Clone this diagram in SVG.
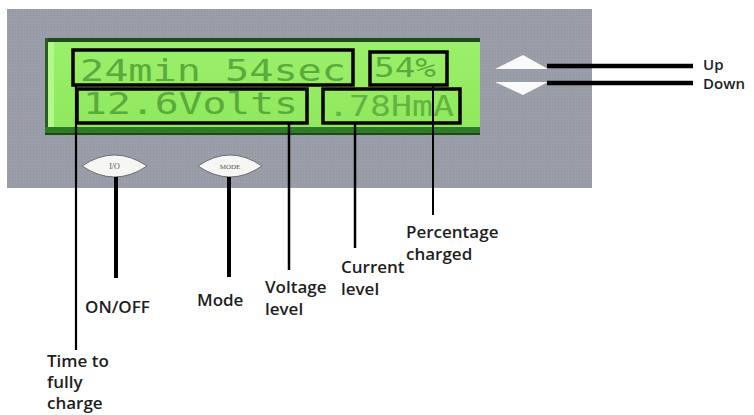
<svg xmlns="http://www.w3.org/2000/svg" width="754" height="415" viewBox="0 0 754 415">
  <defs>
    <pattern id="dots" width="3" height="3" patternUnits="userSpaceOnUse">
      <rect width="3" height="3" fill="#9a9ea8"/>
      <rect width="1" height="1" fill="#8f939d"/>
    </pattern>
    <linearGradient id="lcd" x1="0" y1="0" x2="0" y2="1">
      <stop offset="0" stop-color="#9cf06c"/>
      <stop offset="1" stop-color="#8ee85c"/>
    </linearGradient>
  </defs>
  <style>
    .lcdtxt { font-family: "DejaVu Sans Mono", "Liberation Mono", monospace; fill: #5aaa3c; }
    .box { fill: none; stroke: #000; stroke-width: 3.5; }
    .lbl { font-family: "Open Sans", "Liberation Sans", sans-serif; font-weight: 600; font-size: 17px; fill: #1e1e1e; }
    .sm { font-size: 15px; }
    .btn { fill: #f6f6f4; stroke: #6c6e74; stroke-width: 1; }
    .btntxt { font-family: "Liberation Serif", serif; fill: #555; text-anchor: middle; }
    .ln { stroke: #000; fill: none; }
  </style>

  <g id="panel">
    <rect x="7" y="9" width="585" height="179" fill="url(#dots)"/>
  </g>

  <g id="lcd-screen">
    <rect x="45" y="38" width="435" height="97" fill="url(#lcd)"/>
    <rect x="45" y="38" width="435" height="4" fill="#1e4a1c"/>
    <rect x="45" y="38" width="3" height="97" fill="#2a5a26"/>
    <rect x="48" y="42" width="6" height="86" fill="#b4f88c"/>
    <rect x="45" y="127" width="435" height="8" fill="#2e7a26"/>
    <rect x="45" y="133" width="435" height="2" fill="#1a4a16"/>
  </g>

  <g id="time-box">
    <text class="lcdtxt" x="80" y="81" font-size="30" textLength="266" lengthAdjust="spacingAndGlyphs">24min 54sec</text>
    <rect class="box" x="73" y="50" width="280" height="35"/>
  </g>
  <g id="percent-box">
    <text class="lcdtxt" x="374" y="77" font-size="26" textLength="62" lengthAdjust="spacingAndGlyphs">54%</text>
    <rect class="box" x="370" y="52" width="77" height="33"/>
  </g>
  <g id="volts-box">
    <text class="lcdtxt" x="83" y="114" font-size="30" textLength="215" lengthAdjust="spacingAndGlyphs">12.6Volts</text>
    <rect class="box" x="77" y="89" width="230" height="34"/>
  </g>
  <g id="current-box">
    <text class="lcdtxt" x="328" y="116" font-size="28" textLength="126" lengthAdjust="spacingAndGlyphs" opacity="0.85">.78HmA</text>
    <rect class="box" x="323" y="89" width="137" height="34"/>
  </g>

  <g id="btn-io">
    <path class="btn" d="M82,166 Q114.5,144 147,166 Q114.5,188 82,166 Z"/>
    <text class="btntxt" x="114.5" y="169" font-size="8">I/O</text>
  </g>
  <g id="btn-mode">
    <path class="btn" d="M198,166 Q230,144 262,166 Q230,188 198,166 Z"/>
    <text class="btntxt" x="230" y="169" font-size="7">MODE</text>
  </g>

  <g id="btn-up">
    <polygon points="495,69 523,55 548,69" fill="#fafafa"/>
  </g>
  <g id="btn-down">
    <polygon points="495,82 548,82 523,95" fill="#fafafa"/>
  </g>

  <g id="connectors">
    <line class="ln" x1="76" y1="85" x2="76" y2="350" stroke-width="2.2"/>
    <line class="ln" x1="116" y1="177" x2="116" y2="278" stroke-width="4"/>
    <line class="ln" x1="229" y1="177" x2="229" y2="277" stroke-width="4"/>
    <line class="ln" x1="289" y1="123" x2="289" y2="270" stroke-width="2.5"/>
    <line class="ln" x1="355" y1="123" x2="355" y2="248" stroke-width="2.5"/>
    <line class="ln" x1="433" y1="84" x2="433" y2="215" stroke-width="2"/>
    <line class="ln" x1="547" y1="66" x2="693" y2="66" stroke-width="4.5"/>
    <line class="ln" x1="547" y1="83" x2="693" y2="83" stroke-width="4.5"/>
  </g>

  <g id="label-up"><text class="lbl sm" x="703" y="70">Up</text></g>
  <g id="label-down"><text class="lbl sm" x="703" y="89">Down</text></g>
  <g id="label-time">
    <text class="lbl" x="47" y="367">Time to</text>
    <text class="lbl" x="47" y="388">fully</text>
    <text class="lbl" x="47" y="409">charge</text>
  </g>
  <g id="label-onoff"><text class="lbl" x="85" y="313">ON/OFF</text></g>
  <g id="label-mode"><text class="lbl" x="197" y="306">Mode</text></g>
  <g id="label-voltage">
    <text class="lbl" x="265" y="293">Voltage</text>
    <text class="lbl" x="265" y="315">level</text>
  </g>
  <g id="label-current">
    <text class="lbl" x="341" y="273">Current</text>
    <text class="lbl" x="341" y="295">level</text>
  </g>
  <g id="label-percentage">
    <text class="lbl" x="406" y="238">Percentage</text>
    <text class="lbl" x="406" y="260">charged</text>
  </g>
</svg>
